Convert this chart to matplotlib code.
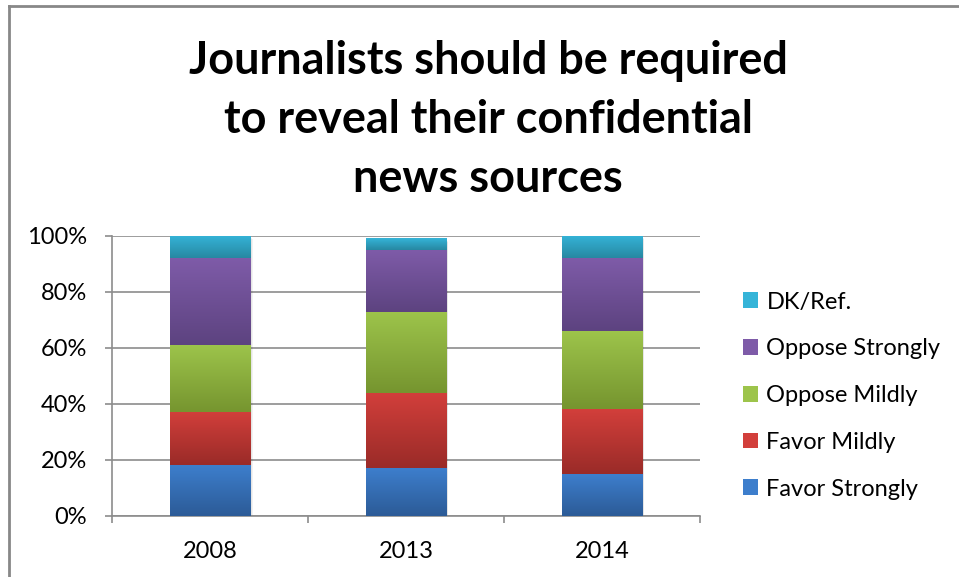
import numpy as np
import matplotlib.pyplot as plt
from matplotlib.colors import LinearSegmentedColormap
from matplotlib.patches import Patch, Rectangle
from matplotlib.lines import Line2D

plt.rcParams['font.family'] = ['Lato', 'DejaVu Sans']

# survey results, percent of respondents
years = ['2008', '2013', '2014']
favor_strongly = [18, 17, 15]
favor_mildly = [19, 27, 23]
oppose_mildly = [24, 29, 28]
oppose_strongly = [31, 22, 26]
dk_ref = [8, 4, 8]

series = [
    ('Favor Strongly', favor_strongly, '#3d7ecc', '#2c5b97'),
    ('Favor Mildly', favor_mildly, '#d23f3b', '#9a2b28'),
    ('Oppose Mildly', oppose_mildly, '#9dc44b', '#76952f'),
    ('Oppose Strongly', oppose_strongly, '#7e5ba8', '#5d4380'),
    ('DK/Ref.', dk_ref, '#35b4d8', '#2788a2'),
]

fig = plt.figure(figsize=(9.59, 5.77), dpi=100)
ax = fig.add_axes([0.1168, 0.1062, 0.613, 0.4848])

x = np.arange(len(years))
width = 0.41
grad = np.linspace(0, 1, 64).reshape(-1, 1)

bottom = np.zeros(len(years))
for name, vals, top_c, bot_c in series:
    cmap = LinearSegmentedColormap.from_list(name, [bot_c, top_c])
    for i, v in enumerate(vals):
        ax.imshow(grad, cmap=cmap, origin='lower', aspect='auto',
                  extent=(x[i] - width / 2, x[i] + width / 2, bottom[i], bottom[i] + v),
                  zorder=3, interpolation='bilinear')
    bottom += np.array(vals)

# soft drop shadow behind each stacked bar
for i, tot in enumerate(bottom):
    for k in range(3):
        ax.add_patch(Rectangle((x[i] - width / 2 + 0.004 * (k + 1), -0.4 * (k + 1)), width, tot,
                               facecolor='#000000', alpha=0.05, linewidth=0, zorder=2))

ax.set_xlim(-0.5, 2.5)
ax.set_ylim(0, 100)
ax.set_yticks(np.arange(0, 101, 20))
ax.set_yticklabels([f'{t}%' for t in range(0, 101, 20)])
ax.set_xticks(x)
ax.set_xticklabels(years)
ax.set_xticks([-0.5, 0.5, 1.5, 2.5], minor=True)

ax.grid(axis='y', color='#8c8c8c', linewidth=1.2, zorder=0)
ax.set_axisbelow(True)
for s in ['top', 'right']:
    ax.spines[s].set_visible(False)
for s in ['left', 'bottom']:
    ax.spines[s].set_color('#8c8c8c')
    ax.spines[s].set_linewidth(1.2)

ax.tick_params(axis='y', direction='out', length=5, width=1.2, color='#8c8c8c',
               labelsize=17, pad=13)
ax.tick_params(axis='x', which='major', length=0, labelsize=17, pad=18)
ax.tick_params(axis='x', which='minor', direction='out', length=5, width=1.2, color='#8c8c8c')

fig.text(0.509, 0.792, 'Journalists should be required\nto reveal their confidential\nnews sources',
         ha='center', va='center', fontsize=32.4, fontweight='bold', linespacing=1.5)

handles = [Patch(facecolor=c, edgecolor='none') for _, _, c, _ in series[::-1]]
labels = [n for n, _, _, _ in series[::-1]]
fig.legend(handles, labels, loc='upper left', bbox_to_anchor=(0.765, 0.511),
           frameon=False, fontsize=17, handlelength=0.65, handleheight=0.65,
           handletextpad=0.34, labelspacing=1.09, borderaxespad=0)

# chart area border along top and left edges
fig.add_artist(Line2D([0.0097, 0.0097], [0, 0.990], transform=fig.transFigure,
                      color='#888888', linewidth=2))
fig.add_artist(Line2D([0.0097, 1.0], [0.990, 0.990], transform=fig.transFigure,
                      color='#888888', linewidth=2))

fig.savefig('out.png', dpi=100)
